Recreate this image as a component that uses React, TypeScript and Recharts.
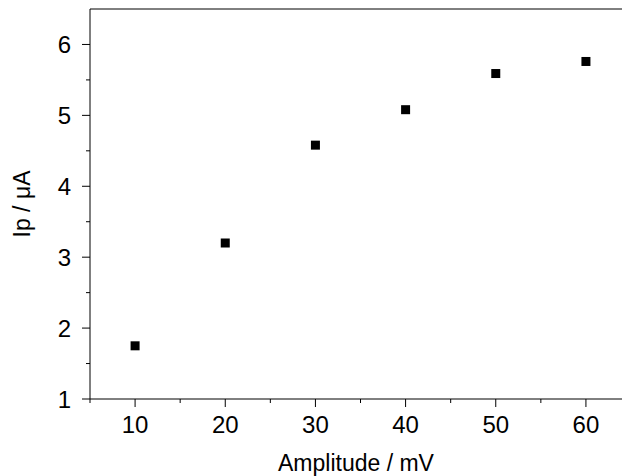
import React from 'react';
import { ScatterChart, Scatter, XAxis, YAxis, ReferenceLine } from 'recharts';

const amplitudes = [10, 20, 30, 40, 50, 60];
const currents = [1.75, 3.2, 4.58, 5.08, 5.59, 5.76];
const xTicks = [5, 10, 15, 20, 25, 30, 35, 40, 45, 50, 55, 60];
const yTicks = [1, 1.5, 2, 2.5, 3, 3.5, 4, 4.5, 5, 5.5, 6];

const data = amplitudes.map((a, i) => ({ x: a, y: currents[i] }));
const font = '"Liberation Sans", Arial, sans-serif';

const XTick = (p: any) => {
  const v = p.payload.value;
  const major = v % 10 === 0;
  return (
    <g>
      <line x1={p.x} x2={p.x} y1={p.y - 8} y2={p.y - 8 + (major ? 8 : 4)} stroke="#000" strokeWidth={1} />
      {major && (
        <text x={p.x} y={p.y + 26} textAnchor="middle" fontSize={24} fontFamily={font} fill="#000">{v}</text>
      )}
    </g>
  );
};

const YTick = (p: any) => {
  const v = p.payload.value;
  const major = Number.isInteger(v);
  return (
    <g>
      <line x1={p.x + 8} x2={p.x + 8 - (major ? 8 : 4)} y1={p.y} y2={p.y} stroke="#000" strokeWidth={1} />
      {major && (
        <text x={71} y={p.y + 9} textAnchor="end" fontSize={24} fontFamily={font} fill="#000">{v}</text>
      )}
    </g>
  );
};

const Square = (p: any) => <rect x={p.cx - 4.5} y={p.cy - 4.5} width={9} height={9} fill="#000" />;

const XLabel = (p: any) => {
  const vb = p.viewBox;
  return <text x={vb.x + vb.width / 2} y={471} textAnchor="middle" fontSize={23} fontFamily={font} fill="#000">Amplitude / mV</text>;
};
const YLabel = (p: any) => {
  const vb = p.viewBox;
  const cy = vb.y + vb.height / 2;
  return <text x={30} y={cy} transform={`rotate(-90, 30, ${cy})`} textAnchor="middle" fontSize={23} fontFamily={font} fill="#000">Ip / μA</text>;
};

export default function App() {
  return (
    <div style={{ position: 'absolute', left: 0, top: 0 }}>
      <ScatterChart width={623} height={476} margin={{ top: 9, right: 1, bottom: 0, left: 0 }}>
        <XAxis type="number" dataKey="x" domain={[5, 64]} ticks={xTicks} interval={0}
          tick={<XTick />} tickLine={false} axisLine={{ stroke: '#000' }} height={77}
          label={<XLabel />} />
        <YAxis type="number" dataKey="y" domain={[1, 6.5]} ticks={yTicks} interval={0}
          tick={<YTick />} tickLine={false} axisLine={{ stroke: '#000' }} width={90}
          label={<YLabel />} />
        <ReferenceLine y={6.5} stroke="#000" />
        <Scatter data={data} shape={<Square />} isAnimationActive={false} />
      </ScatterChart>
    </div>
  );
}
